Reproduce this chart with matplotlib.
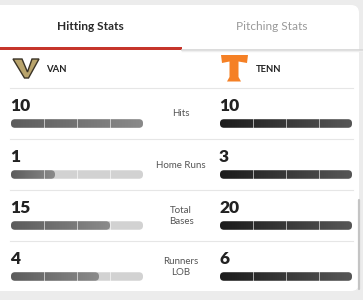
import numpy as np
import matplotlib.pyplot as plt
from matplotlib.patches import FancyBboxPatch, Polygon, Rectangle
from matplotlib.colors import LinearSegmentedColormap

plt.rcParams['font.family'] = ['Lato', 'DejaVu Sans']

# data
stats = ["Hits", "Home Runs", "Total\nBases", "Runners\nLOB"]
van = [10, 1, 15, 4]
tenn = [10, 3, 20, 6]
teams = ["VAN", "TENN"]
tabs = ["Hitting Stats", "Pitching Stats"]

W, H = 363, 300
fig = plt.figure(figsize=(W / 100, H / 100), dpi=100)
fig.patch.set_facecolor('#ececec')
ax = fig.add_axes([0, 0, 1, 1])
ax.set_xlim(0, W)
ax.set_ylim(H, 0)
ax.axis('off')

# card
ax.add_patch(FancyBboxPatch((-10, 5), 369, 286, boxstyle="round,pad=0,rounding_size=8",
                            fc='white', ec='none'))
# scrollbar
ax.plot([359, 359], [200, 289], color='#c4c4c4', lw=1.6, solid_capstyle='round')

# tabs
ax.text(90, 27, tabs[0], ha='center', va='center', fontsize=8.6, weight='bold', color='#2b2b2b')
ax.text(272, 27, tabs[1], ha='center', va='center', fontsize=8.6, color='#9a9a9a')
ax.plot([182, 363], [49.5, 49.5], color='#d6d6d6', lw=1.2)
ax.plot([182, 363], [51, 51], color='#efefef', lw=1.0)
ax.add_patch(Rectangle((0, 46.5), 182, 3, fc='#c6352b', ec='none'))

# team logos
vlogo = Polygon([(13, 59), (22, 59), (27.5, 72), (32, 59), (39, 59), (28.5, 78), (24.5, 78)],
                closed=True, fc='#b9a46c', ec='#3a3326', lw=1.0)
ax.add_patch(vlogo)
tlogo = Polygon([(221, 55), (248, 55), (247, 63), (238.5, 61.5), (238.5, 77), (241, 81.5),
                 (227, 81.5), (229.5, 77), (229.5, 61.5), (222, 63)],
                closed=True, fc='#f58025', ec='none')
ax.add_patch(tlogo)
ax.text(46, 69, teams[0], ha='left', va='center', fontsize=6.8, weight='bold', color='#222222')
ax.text(256, 69, teams[1], ha='left', va='center', fontsize=6.8, weight='bold', color='#222222')
ax.plot([10, 353], [88, 88], color='#e6e6e6', lw=0.8)

left_cmap = LinearSegmentedColormap.from_list('l', ['#5c5c5c', '#8a8a8a'])
right_cmap = LinearSegmentedColormap.from_list('r', ['#1c1c1c', '#565656'])

bar_w = 132
bar_h = 8.5
row_top = [88, 139, 190, 241]


def draw_bar(x0, yc, frac, cmap):
    y0 = yc - bar_h / 2
    bg = FancyBboxPatch((x0, y0), bar_w, bar_h, boxstyle="round,pad=0,rounding_size=4",
                        fc='#d2d2d2', ec='none', zorder=1)
    ax.add_patch(bg)
    w = bar_w * frac
    fg = FancyBboxPatch((x0, y0), w, bar_h, boxstyle="round,pad=0,rounding_size=4",
                        fc='none', ec='none', zorder=2)
    ax.add_patch(fg)
    grad = np.linspace(0, 1, 64).reshape(1, -1)
    im = ax.imshow(grad, cmap=cmap, extent=(x0, x0 + w, y0 + bar_h, y0), aspect='auto',
                   interpolation='bilinear', zorder=2)
    im.set_clip_path(fg)
    for k in range(1, 4):
        xs = x0 + bar_w * k / 4
        ax.plot([xs, xs], [y0, y0 + bar_h], color='white', lw=0.6, alpha=0.7, zorder=3)


for i, name in enumerate(stats):
    t = row_top[i]
    mx = max(van[i], tenn[i])
    ax.text(10, t + 18, str(van[i]), ha='left', va='center', fontsize=12.5, weight='heavy', color='#222222')
    ax.text(219, t + 18, str(tenn[i]), ha='left', va='center', fontsize=12.5, weight='heavy', color='#222222')
    draw_bar(11, t + 35.5, van[i] / mx, left_cmap)
    draw_bar(220, t + 35.5, tenn[i] / mx, right_cmap)
    ax.text(181, t + 26, name, ha='center', va='center', fontsize=7.0, color='#555555',
            linespacing=1.35)
    if i < 3:
        ax.plot([10, 353], [t + 51, t + 51], color='#e6e6e6', lw=0.8)

ax.set_xlim(0, W)
ax.set_ylim(H, 0)
fig.savefig('out.png', dpi=100, facecolor=fig.get_facecolor())
